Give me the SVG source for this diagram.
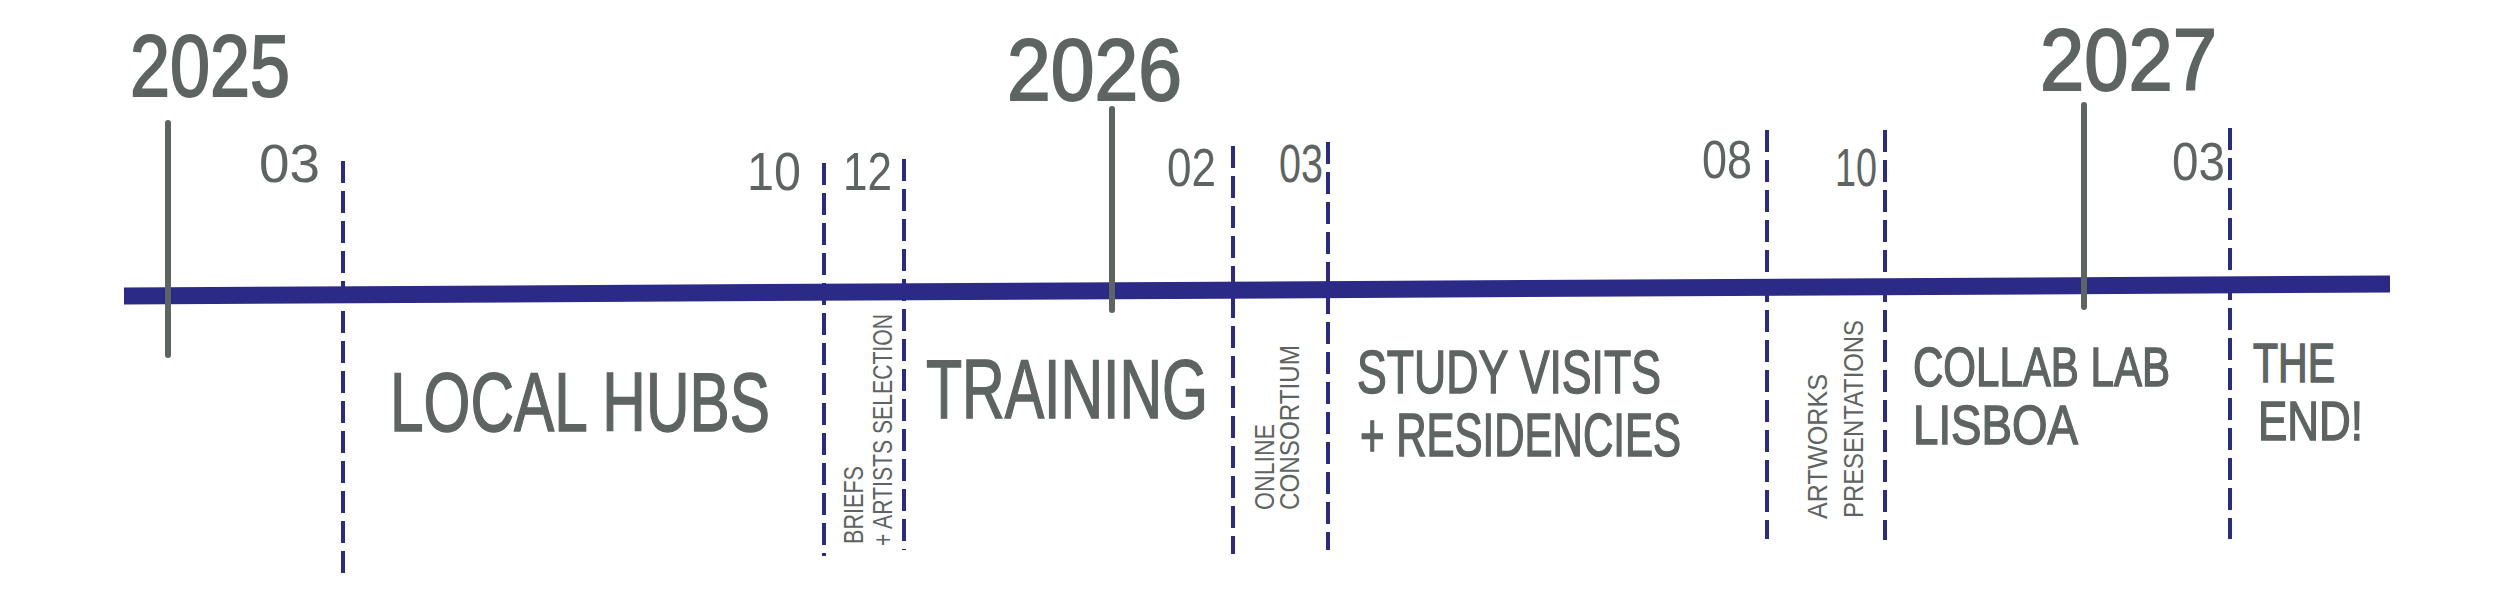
<svg xmlns="http://www.w3.org/2000/svg" width="2517" height="601" viewBox="0 0 2517 601">
<style>
.bg{fill:#ffffff}
.axis{stroke:#2b2a86;stroke-width:17;stroke-linecap:butt;fill:none}
.year-tick{stroke:#5e6462;stroke-width:6;stroke-linecap:round;fill:none}
.dash{stroke:#2b2a86;stroke-width:4;stroke-dasharray:22 8;fill:none}
text{font-family:"Liberation Sans","DejaVu Sans",sans-serif;fill:#5e6462}
.year{font-size:88px;stroke:#5e6462;stroke-width:2}
.month{font-size:54px}
.phase{font-size:84px;stroke:#5e6462;stroke-width:1.5}
.phase2{font-size:62px;stroke:#5e6462;stroke-width:1.5}
.phase3{font-size:56px;stroke:#5e6462;stroke-width:1.5}
.small{font-size:28px}
</style>
<rect class="bg" x="0" y="0" width="2517" height="601"/>
<g id="connectors">
<line class="axis" x1="124" y1="296" x2="2390" y2="284"/>
<line class="dash" x1="343" y1="161" x2="343" y2="573"/>
<line class="dash" x1="824" y1="163" x2="824" y2="556"/>
<line class="dash" x1="904" y1="159" x2="904" y2="550"/>
<line class="dash" x1="1233" y1="146" x2="1233" y2="554"/>
<line class="dash" x1="1328" y1="142" x2="1328" y2="550"/>
<line class="dash" x1="1767" y1="130" x2="1767" y2="539"/>
<line class="dash" x1="1885" y1="130" x2="1885" y2="540"/>
<line class="dash" x1="2230" y1="128" x2="2230" y2="539"/>
</g>
<g id="year-2025">
<line class="year-tick" x1="168" y1="123" x2="168" y2="355"/>
<text class="year" x="130" y="96" textLength="160" lengthAdjust="spacingAndGlyphs">2025</text>
</g>
<g id="year-2026">
<line class="year-tick" x1="1112" y1="109" x2="1112" y2="310"/>
<text class="year" x="1007" y="100" textLength="175" lengthAdjust="spacingAndGlyphs">2026</text>
</g>
<g id="year-2027">
<line class="year-tick" x1="2084" y1="105" x2="2084" y2="307"/>
<text class="year" x="2040" y="90" textLength="177" lengthAdjust="spacingAndGlyphs">2027</text>
</g>
<g id="month-03-2025"><text class="month" x="259" y="182" textLength="61" lengthAdjust="spacingAndGlyphs">03</text></g>
<g id="month-10-2025"><text class="month" x="747" y="190" textLength="54" lengthAdjust="spacingAndGlyphs">10</text></g>
<g id="month-12-2025"><text class="month" x="843" y="190" textLength="49" lengthAdjust="spacingAndGlyphs">12</text></g>
<g id="month-02-2026"><text class="month" x="1167" y="186" textLength="49" lengthAdjust="spacingAndGlyphs">02</text></g>
<g id="month-03-2026"><text class="month" x="1279" y="182" textLength="44" lengthAdjust="spacingAndGlyphs">03</text></g>
<g id="month-08-2026"><text class="month" x="1702" y="178" textLength="50" lengthAdjust="spacingAndGlyphs">08</text></g>
<g id="month-10-2026"><text class="month" x="1835" y="186" textLength="42" lengthAdjust="spacingAndGlyphs">10</text></g>
<g id="month-03-2027"><text class="month" x="2172" y="180" textLength="53" lengthAdjust="spacingAndGlyphs">03</text></g>
<g id="phase-local-hubs"><text class="phase" x="390" y="431" textLength="380" lengthAdjust="spacingAndGlyphs">LOCAL HUBS</text></g>
<g id="phase-briefs">
<text class="small" transform="translate(863,544) rotate(-90)" textLength="78" lengthAdjust="spacingAndGlyphs">BRIEFS</text>
<text class="small" transform="translate(892,546) rotate(-90)" textLength="232" lengthAdjust="spacingAndGlyphs">+ ARTISTS  SELECTION</text>
</g>
<g id="phase-training"><text class="phase" x="926" y="418" textLength="282" lengthAdjust="spacingAndGlyphs">TRAINING</text></g>
<g id="phase-online-consortium">
<text class="small" transform="translate(1274,510) rotate(-90)" textLength="86" lengthAdjust="spacingAndGlyphs">ONLINE</text>
<text class="small" transform="translate(1299,510) rotate(-90)" textLength="165" lengthAdjust="spacingAndGlyphs">CONSORTIUM</text>
</g>
<g id="phase-study-visits">
<text class="phase2" x="1357" y="393" textLength="304" lengthAdjust="spacingAndGlyphs">STUDY VISITS</text>
<text class="phase2" x="1360" y="456" textLength="321" lengthAdjust="spacingAndGlyphs">+ RESIDENCIES</text>
</g>
<g id="phase-artworks-presentations">
<text class="small" transform="translate(1827,519) rotate(-90)" textLength="145" lengthAdjust="spacingAndGlyphs">ARTWORKS</text>
<text class="small" transform="translate(1863,518) rotate(-90)" textLength="198" lengthAdjust="spacingAndGlyphs">PRESENTATIONS</text>
</g>
<g id="phase-collab-lab">
<text class="phase3" x="1913" y="386" textLength="257" lengthAdjust="spacingAndGlyphs">COLLAB LAB</text>
<text class="phase3" x="1913" y="444" textLength="165" lengthAdjust="spacingAndGlyphs">LISBOA</text>
</g>
<g id="phase-the-end">
<text class="phase3" x="2253" y="382" textLength="82" lengthAdjust="spacingAndGlyphs">THE</text>
<text class="phase3" x="2258" y="440" textLength="105" lengthAdjust="spacingAndGlyphs">END!</text>
</g>
</svg>
